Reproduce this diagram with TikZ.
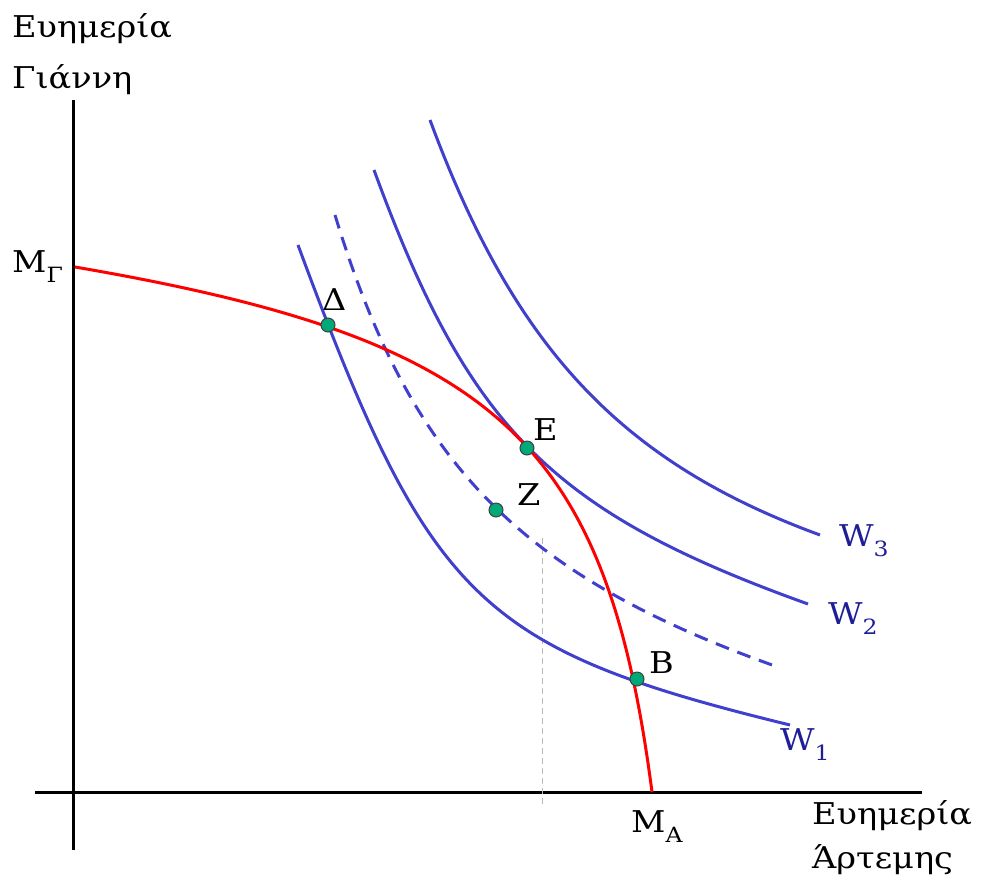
\documentclass[tikz,border=0pt]{standalone}
\usepackage{fontspec}
\setmainfont[FakeStretch=1.12]{DejaVu Serif}
\definecolor{cblue}{RGB}{64,64,204}
\definecolor{lblue}{RGB}{30,30,150}
\definecolor{cred}{RGB}{255,0,0}
\definecolor{ptgreen}{RGB}{0,170,120}
\newcommand\mysub[1]{\raisebox{-10pt}{\fontsize{21}{21}\selectfont #1}}
\begin{document}
\begin{tikzpicture}[x=1pt,y=-1pt,
  axis/.style={line width=3pt, black},
  wcurve/.style={line width=3pt, draw=cblue},
  dcurve/.style={line width=3pt, draw=cblue, dash pattern=on 14pt off 9pt},
  ppf/.style={line width=3pt, draw=cred},
  pt/.style={circle, minimum size=14pt, inner sep=0pt, fill=ptgreen, draw=black!75, line width=1pt},
  txt/.style={font=\fontsize{30}{50}\selectfont, inner sep=0pt, anchor=base west},
  wlab/.style={txt, text=lblue},
  guide/.style={line width=1pt, gray!55, dash pattern=on 6pt off 4pt}]
\useasboundingbox (0,0) rectangle (982,879);
% axes
\coordinate (ytop) at (73,100);
\coordinate (ybot) at (73,850);
\coordinate (xl) at (35,792);
\coordinate (xr) at (922,792);
\draw[axis] (ybot) -- (ytop);
\draw[axis] (xl) -- (xr);
% guide line
\coordinate (g1) at (542,538);
\coordinate (g2) at (542,806);
\draw[guide] (g1) -- (g2);
% indifference curves
\coordinate (w1a) at (298,245); \coordinate (w1b) at (790,725);
\coordinate (w2a) at (374,170); \coordinate (w2b) at (808,604);
\coordinate (w3a) at (430,120); \coordinate (w3b) at (820,535);
\coordinate (wda) at (335,215); \coordinate (wdb) at (775,666);
\coordinate (ra) at (75,267);   \coordinate (rb) at (652,792);
\draw[wcurve] (w1a) .. controls (429.8,601.8) and (479,648.8) .. (w1b);
\draw[wcurve] (w2a) .. controls (469.2,429.4) and (551.6,511.9) .. (w2b);
\draw[wcurve] (w3a) .. controls (514.7,348.8) and (621.2,462.1) .. (w3b);
\draw[dcurve] (wda) .. controls (410.6,463.5) and (519.3,574.9) .. (wdb);
% utility possibility frontier
\draw[ppf] (ra) .. controls (496.4,339.3) and (606,439) .. (rb);
% points
\node[pt] (D) at (328,325) {};
\node[pt] (E) at (527,448) {};
\node[pt] (Z) at (496,510) {};
\node[pt] (B) at (637,679) {};
\node[txt] (Dl) at (322,310) {Δ};
\node[txt] (El) at (533,440) {E};
\node[txt] (Zl) at (517,505) {Z};
\node[txt] (Bl) at (649,673) {B};
% curve labels
\node[wlab] (W3) at (839,546) {W\mysub{3}};
\node[wlab] (W2) at (828,624) {W\mysub{2}};
\node[wlab] (W1) at (780,750) {W\mysub{1}};
% axis labels
\node[txt] (MG) at (12,272) {M\mysub{Γ}};
\node[txt] (MA) at (631,832) {M\mysub{A}};
\node[txt] (ylab1) at (12,37) {Ευημερία};
\node[txt] (ylab2) at (12,88) {Γιάννη};
\node[txt] (xlab1) at (812,824) {Ευημερία};
\node[txt] (xlab2) at (812,868) {Άρτεμης};
\end{tikzpicture}
\end{document}
